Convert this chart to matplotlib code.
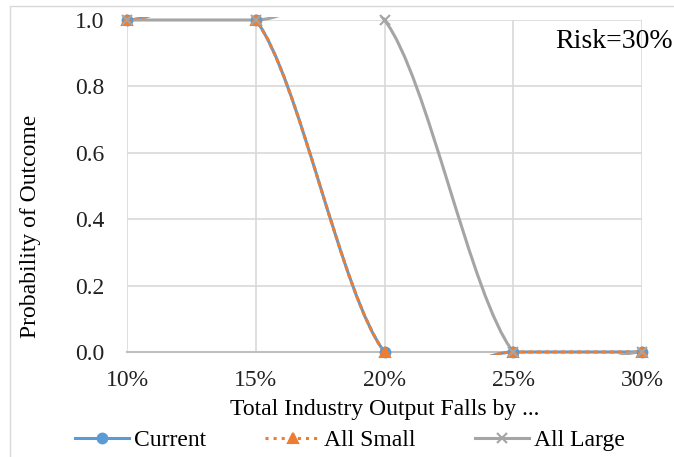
import matplotlib.pyplot as plt
from matplotlib.path import Path
from matplotlib.patches import PathPatch, Rectangle
from matplotlib.lines import Line2D

categories = ['10%', '15%', '20%', '25%', '30%']
current = [1, 1, 0, 0, 0]
all_small = [1, 1, 0, 0, 0]
all_large = [1, 1, 1, 0, 0]

plt.rcParams['font.family'] = ['Liberation Serif', 'DejaVu Serif']

fig = plt.figure(figsize=(6.74, 4.57), dpi=100)
ax = fig.add_axes([127/674, 1-352/457, (642-127)/674, (352-20)/457])

# chart border like Excel
fig.patches.append(Rectangle((10/674, -0.1), 2, 1-6/457+0.1, transform=fig.transFigure,
                             fill=False, edgecolor='#D9D9D9', lw=1))

xs = list(range(len(categories)))


def smooth_path(x, y):
    # Excel-style smoothed line: cubic bezier with Catmull-Rom tangents
    n = len(y)
    m = []
    for i in range(n):
        a = y[max(i-1, 0)]
        b = y[min(i+1, n-1)]
        m.append((b - a) / 2)
    verts = [(x[0], y[0])]
    codes = [Path.MOVETO]
    for i in range(n-1):
        verts += [(x[i] + 1/3, y[i] + m[i]/3),
                  (x[i+1] - 1/3, y[i+1] - m[i+1]/3),
                  (x[i+1], y[i+1])]
        codes += [Path.CURVE4] * 3
    return Path(verts, codes)


clip = Rectangle((0, -0.008), 1, 1.016, transform=ax.transAxes, visible=False)
ax.add_patch(clip)

series = [
    ('Current', current, '#5B9BD5', '-', 'o', 7),
    ('All Small', all_small, '#ED7D31', ':', '^', 7),
    ('All Large', all_large, '#A5A5A5', '-', 'x', 7),
]
handles = []
for name, vals, col, ls, mk, ms in series:
    p = PathPatch(smooth_path(xs, vals), fill=False, edgecolor=col, lw=2.2,
                  linestyle=ls, capstyle='round', zorder=3)
    ax.add_patch(p)
    p.set_clip_path(clip)
    ax.plot(xs, vals, linestyle='none', marker=mk, ms=ms, color=col,
            mec=col, mew=1.5, clip_on=False, zorder=4)
    handles.append(Line2D([], [], color=col, lw=2.2, linestyle=ls, marker=mk,
                          ms=ms, mew=1.5, label=name))

ax.set_xlim(0, 4)
ax.set_ylim(0, 1.0)
ax.set_xticks(xs)
ax.set_xticklabels(categories)
ax.set_yticks([0, 0.2, 0.4, 0.6, 0.8, 1.0])
ax.set_yticklabels(['0.0', '0.2', '0.4', '0.6', '0.8', '1.0'])
ax.tick_params(length=0, labelsize=17, colors='#222222')
ax.tick_params(axis='x', pad=13)
ax.tick_params(axis='y', pad=16)
ax.grid(color='#D9D9D9', lw=1.2)
ax.set_axisbelow(True)
for s in ['top', 'right', 'left']:
    ax.spines[s].set_visible(False)
ax.spines['bottom'].set_color('#BFBFBF')
ax.spines['bottom'].set_linewidth(1.5)

ax.set_xlabel('Total Industry Output Falls by ...', fontsize=17)
ax.xaxis.set_label_coords(0.5, -(410-352)/332)
ax.xaxis.label.set_va('center')
ax.set_ylabel('Probability of Outcome', fontsize=17)
ax.yaxis.set_label_coords((30-127)/515, (352-226)/332)
ax.yaxis.label.set_va('center')

fig.text(555/674, 1-42/457, 'Risk=30%', fontsize=20, va='center', ha='left')

fig.legend(handles=handles, loc='center', bbox_to_anchor=(350/674, 1-440/457), ncol=3,
           frameon=False, fontsize=17, handlelength=2.3, handletextpad=0.2,
           columnspacing=2.5)

fig.savefig('out.png', dpi=100)
